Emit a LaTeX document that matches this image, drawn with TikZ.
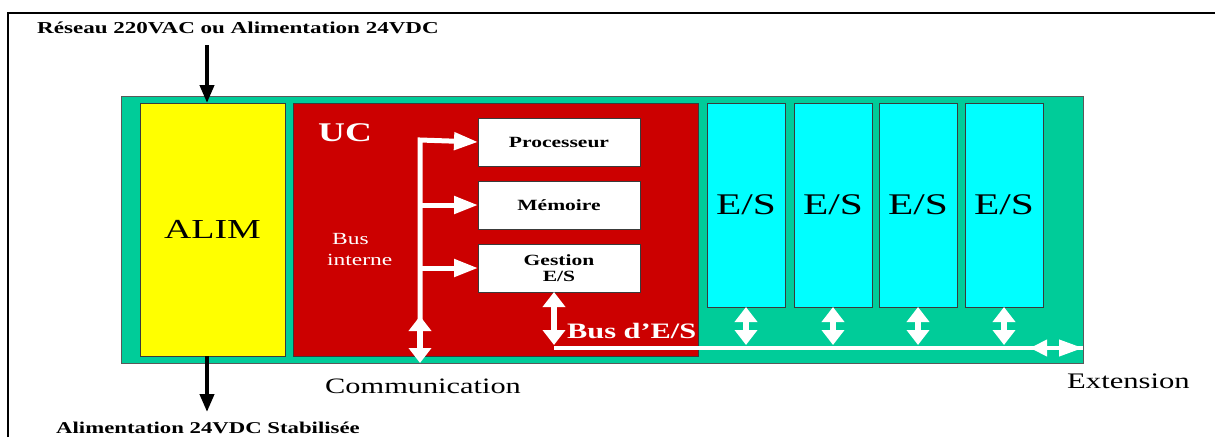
\documentclass[tikz,border=0pt]{standalone}
\usepackage{graphicx}
\usepackage{fontspec}
\setmainfont{Liberation Serif}
\usetikzlibrary{arrows.meta}
\definecolor{plcgreen}{HTML}{00CC99}
\definecolor{plcred}{HTML}{CC0000}
\definecolor{plccyan}{HTML}{00FFFF}
\definecolor{plcyellow}{HTML}{FFFF00}
\definecolor{edgecol}{HTML}{3A3A3A}
\newcommand\wx[1]{\scalebox{1.38}[1]{#1}}
\begin{document}
\begin{tikzpicture}[x=1pt,y=-1pt,
  panel/.style={draw=edgecol, line width=0.8pt, inner sep=0pt, outer sep=0pt},
  whitebox/.style={panel, fill=white, minimum width=162pt, minimum height=48pt,
    font=\bfseries\fontsize{15.6}{18}\selectfont, align=center},
  esbox/.style={panel, fill=plccyan, minimum width=78pt, minimum height=204pt,
    font=\fontsize{30}{32}\selectfont},
  lbl/.style={inner sep=0pt, anchor=west},
  blk/.style={line width=4pt, -{Triangle[length=18pt,width=14pt]}},
  wbus/.style={draw=white, line width=5pt, line join=miter},
  wto/.style={wbus, -{Triangle[length=24pt,width=17pt]}},
  wdbl/.style={draw=white, fill=white, line width=6pt,
    {Triangle[length=15pt,width=22pt]}-{Triangle[length=15pt,width=22pt]}},
  wext/.style={draw=white, fill=white, line width=4pt,
    {Triangle[length=17pt,width=16pt]}-{Triangle[length=24pt,width=16pt]}},
]
\useasboundingbox (0,0) rectangle (1215,437);
\fill[white] (0,0) rectangle (1215,437);

% outer frame
\coordinate (fbl) at (8,437);
\coordinate (ftl) at (8,13);
\coordinate (ftr) at (1215,13);
\draw[line width=2pt] (fbl) -- (ftl) -- (ftr);

% rack
\node[panel, fill=plcgreen, draw=gray!70!black, minimum width=962pt, minimum height=267pt] (plc) at (602,229.5) {};
\node[panel, fill=plcyellow, minimum width=145pt, minimum height=253pt,
  font=\fontsize{27.5}{29}\selectfont] (alim) at (212.5,229.5) {\wx{ALIM}};
\node[panel, fill=plcred, minimum width=405pt, minimum height=253pt] (uc) at (495.5,229.5) {};

\node[whitebox] (proc) at (559,142) {\wx{Processeur}};
\node[whitebox] (mem) at (559,205) {\wx{Mémoire}};
\node[whitebox] (gest) at (559,268) {\wx{Gestion}\\[-2pt]\wx{E/S}};

\node[esbox] (es1) at (746,205) {\wx{E/S}};
\node[esbox] (es2) at (833,205) {\wx{E/S}};
\node[esbox] (es3) at (918,205) {\wx{E/S}};
\node[esbox] (es4) at (1004,205) {\wx{E/S}};

% labels
\node[lbl, text=white, font=\bfseries\fontsize{27}{29}\selectfont] (uclbl) at (318,133) {\wx{UC}};
\node[lbl, text=white, align=left, font=\fontsize{17}{21}\selectfont] (busint) at (327,250) {\hspace{5pt}\wx{Bus}\\\wx{interne}};
\node[lbl, text=white, font=\bfseries\fontsize{22}{24}\selectfont] (busio) at (567,331) {\wx{Bus d’E/S}};
\node[lbl, font=\bfseries\fontsize{16.7}{18}\selectfont] (reseau) at (37,28) {\wx{Réseau 220VAC ou Alimentation 24VDC}};
\node[lbl, font=\bfseries\fontsize{16.5}{18}\selectfont] (alimout) at (56,428) {\wx{Alimentation 24VDC Stabilisée}};
\node[lbl, font=\fontsize{22}{25}\selectfont] (comm) at (325,386) {\wx{Communication}};
\node[lbl, font=\fontsize{22.2}{25}\selectfont] (ext) at (1067,381) {\wx{Extension}};

% power arrows
\coordinate (src) at (207,45);
\coordinate (out) at (207,412);
\draw[blk] (src) -- (src |- alim.north);
\draw[blk] (alim.south -| out) -- (out);

% internal bus
\coordinate (bustop) at (420,140);
\coordinate (busbot) at (420,350);
\coordinate (commtop) at (420,316);
\coordinate (commbot) at (420,363);
\draw[wto] (busbot) -- (bustop) -- (proc.west);
\draw[wto] (bustop |- mem.west) -- (mem.west);
\draw[wto] (bustop |- gest.west) -- (gest.west);
\draw[wdbl] (commtop) -- (commbot);

% I/O bus
\coordinate (iocorner) at (554,348);
\coordinate (ioend) at (554,345);
\draw[wdbl] (gest.south -| iocorner) -- (ioend);
\draw[draw=white, line width=4pt] (iocorner) -- (iocorner -| plc.east);
\draw[wdbl] (es1.south) -- (es1.south |- ioend);
\draw[wdbl] (es2.south) -- (es2.south |- ioend);
\draw[wdbl] (es3.south) -- (es3.south |- ioend);
\draw[wdbl] (es4.south) -- (es4.south |- ioend);
\coordinate (extl) at (1030,348);
\draw[wext] (extl) -- (extl -| plc.east);
\end{tikzpicture}
\end{document}
